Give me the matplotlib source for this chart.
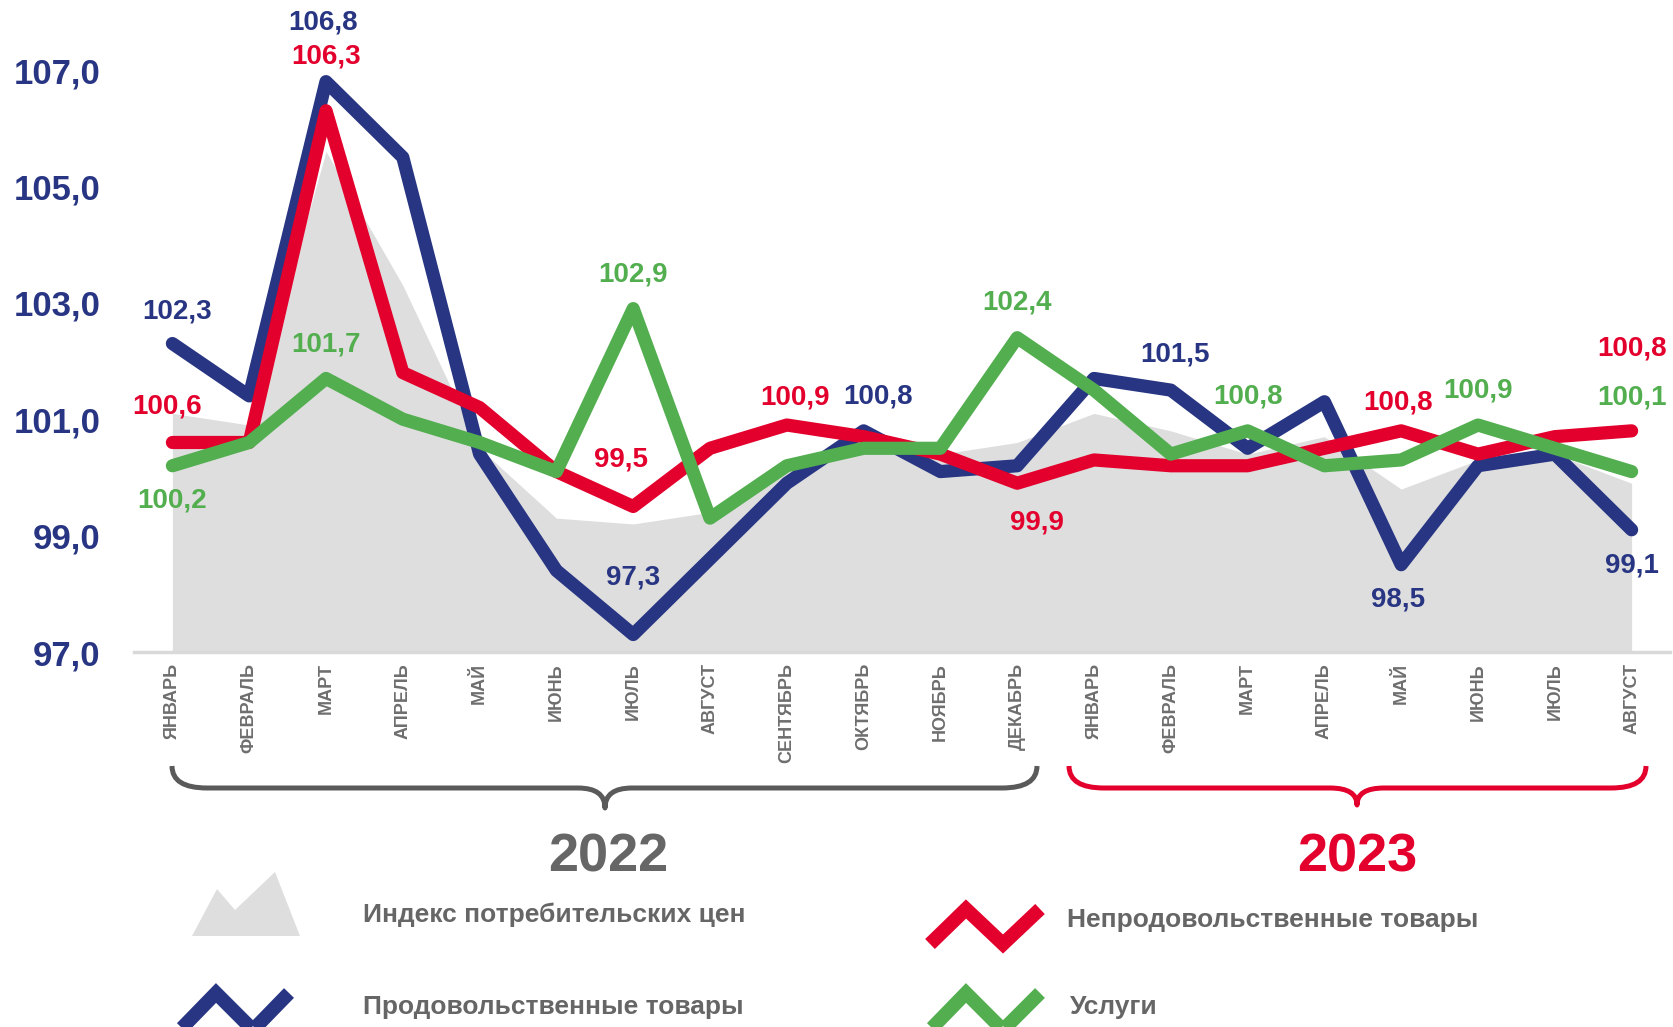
import matplotlib
matplotlib.use("Agg")
import matplotlib.pyplot as plt
from matplotlib.patches import Polygon, PathPatch
from matplotlib.path import Path
from matplotlib.lines import Line2D

# ---------------- data ----------------
months = ["ЯНВАРЬ", "ФЕВРАЛЬ", "МАРТ", "АПРЕЛЬ", "МАЙ", "ИЮНЬ", "ИЮЛЬ", "АВГУСТ",
          "СЕНТЯБРЬ", "ОКТЯБРЬ", "НОЯБРЬ", "ДЕКАБРЬ",
          "ЯНВАРЬ", "ФЕВРАЛЬ", "МАРТ", "АПРЕЛЬ", "МАЙ", "ИЮНЬ", "ИЮЛЬ", "АВГУСТ"]
cpi = [101.1, 100.9, 105.6, 103.3, 100.5, 99.3, 99.2, 99.4, 100.2, 100.4,
       100.4, 100.6, 101.1, 100.8, 100.4, 100.7, 99.8, 100.3, 100.4, 99.9]
food = [102.3, 101.4, 106.8, 105.5, 100.4, 98.4, 97.3, 98.6, 99.9, 100.8,
        100.1, 100.2, 101.7, 101.5, 100.5, 101.3, 98.5, 100.2, 100.4, 99.1]
nonfood = [100.6, 100.6, 106.3, 101.8, 101.2, 100.1, 99.5, 100.5, 100.9, 100.7,
           100.4, 99.9, 100.3, 100.2, 100.2, 100.5, 100.8, 100.4, 100.7, 100.8]
services = [100.2, 100.6, 101.7, 101.0, 100.6, 100.1, 102.9, 99.3, 100.2, 100.5,
            100.5, 102.4, 101.5, 100.4, 100.8, 100.2, 100.3, 100.9, 100.5, 100.1]
years = ["2022", "2023"]
yticks = [97, 99, 101, 103, 105, 107]
legend_labels = ["Индекс потребительских цен", "Непродовольственные товары",
                 "Продовольственные товары", "Услуги"]

# labelled points: (index, dx px, dy px)
food_lbl = [(0, 5, 32), (2, -3, 59), (6, 0, 57), (9, 14, 34), (13, 4, 36), (16, -3, -35), (19, 0, -36)]
nonfood_lbl = [(0, -5, 36), (2, 0, 54), (6, -12, 47), (8, 8, 28), (11, 20, -39), (16, -3, 28), (19, 0, 82)]
services_lbl = [(0, 0, -35), (2, 0, 34), (6, 0, 34), (11, 0, 35), (14, 0, 34), (17, 0, 35), (19, 0, 74)]

# ---------------- style ----------------
NAVY = "#283583"
RED = "#e3002d"
GREEN = "#52ae4f"
GRAYFILL = "#dedede"
GRAYTXT = "#666666"
FONT = "Liberation Sans"
plt.rcParams["font.family"] = [FONT, "DejaVu Sans"]

W, H = 1673, 1027
fig = plt.figure(figsize=(W / 100, H / 100), dpi=100)
fig.patch.set_facecolor("white")

ax = fig.add_axes([134 / W, 1 - 652 / H, 1536 / W, 652 / H])
ax.set_xlim(-0.5, 19.5)
ax.set_ylim(97, 97 + 652 / 58.2)
for s in ax.spines.values():
    s.set_visible(False)

x = list(range(len(months)))
ax.fill_between(x, cpi, 97, color=GRAYFILL, lw=0, zorder=1)
ax.axhline(97, color="#d9d9d9", lw=2.5, clip_on=False, zorder=1.5)

lw = 9.5
ax.plot(x, food, color=NAVY, lw=lw, solid_capstyle="round", solid_joinstyle="round", zorder=3)
ax.plot(x, nonfood, color=RED, lw=lw, solid_capstyle="round", solid_joinstyle="round", zorder=4)
ax.plot(x, services, color=GREEN, lw=lw, solid_capstyle="round", solid_joinstyle="round", zorder=5)


def fmt(v):
    return f"{v:.1f}".replace(".", ",")


for series, lbls, col in [(food, food_lbl, NAVY), (nonfood, nonfood_lbl, RED), (services, services_lbl, GREEN)]:
    for i, dx, dy in lbls:
        ax.annotate(fmt(series[i]), (i, series[i]), xytext=(dx * 0.72, dy * 0.72),
                    textcoords="offset points", ha="center", va="center",
                    fontsize=20, fontweight="bold", color=col, zorder=6,
                    annotation_clip=False)

ax.set_yticks(yticks)
ax.set_yticklabels([fmt(v) for v in yticks], fontsize=25, fontweight="bold", color=NAVY)
ax.tick_params(axis="y", length=0, pad=24)
ax.set_xticks(x)
ax.set_xticklabels(months, rotation=90, fontsize=13, fontweight="bold", color="#6e6e6e", va="top")
ax.tick_params(axis="x", length=0, pad=8)

# ---------------- overlay (pixel coords) ----------------
ov = fig.add_axes([0, 0, 1, 1], zorder=10)
ov.set_xlim(0, W)
ov.set_ylim(H, 0)
ov.axis("off")
ov.patch.set_alpha(0)


def brace(x0, x1, xm, ytop, ymid, ytip, r, rt, color):
    verts = [(x0, ytop), (x0, ymid), (x0 + r, ymid),
             (xm - rt, ymid),
             (xm, ymid), (xm, ytip),
             (xm, ymid), (xm + rt, ymid),
             (x1 - r, ymid),
             (x1, ymid), (x1, ytop)]
    codes = [Path.MOVETO, Path.CURVE3, Path.CURVE3,
             Path.LINETO,
             Path.CURVE3, Path.CURVE3,
             Path.CURVE3, Path.CURVE3,
             Path.LINETO,
             Path.CURVE3, Path.CURVE3]
    ov.add_patch(PathPatch(Path(verts, codes), fill=False, edgecolor=color, lw=3.6,
                           capstyle="butt", joinstyle="round"))


brace(172, 1037, 605, 766, 788, 808, 35, 27, "#5a5a5a")
brace(1069, 1646, 1357, 766, 788, 805, 35, 27, RED)

ov.text(608, 857, years[0], ha="center", va="center", fontsize=39, fontweight="bold", color=GRAYTXT)
ov.text(1357, 857, years[1], ha="center", va="center", fontsize=39, fontweight="bold", color=RED)

# legend
ov.add_patch(Polygon([(192, 936), (217, 889), (235, 910), (275, 872), (300, 936)],
                     closed=True, facecolor=GRAYFILL, edgecolor="none"))
for xs, ys, col in [([930, 966, 1003, 1040], [944, 909, 944, 909], RED),
                    ([180, 216, 253, 289], [1030, 993, 1030, 993], NAVY),
                    ([930, 966, 1003, 1040], [1030, 993, 1030, 993], GREEN)]:
    ov.add_line(Line2D(xs, ys, color=col, lw=10, solid_joinstyle="miter", solid_capstyle="butt"))

lkw = dict(ha="left", va="center", fontsize=19, fontweight="bold", color=GRAYTXT)
ov.text(363, 915, legend_labels[0], **lkw)
ov.text(1067, 920, legend_labels[1], **lkw)
ov.text(363, 1007, legend_labels[2], **lkw)
ov.text(1070, 1007, legend_labels[3], **lkw)

fig.savefig("out.png", dpi=100, facecolor="white")
